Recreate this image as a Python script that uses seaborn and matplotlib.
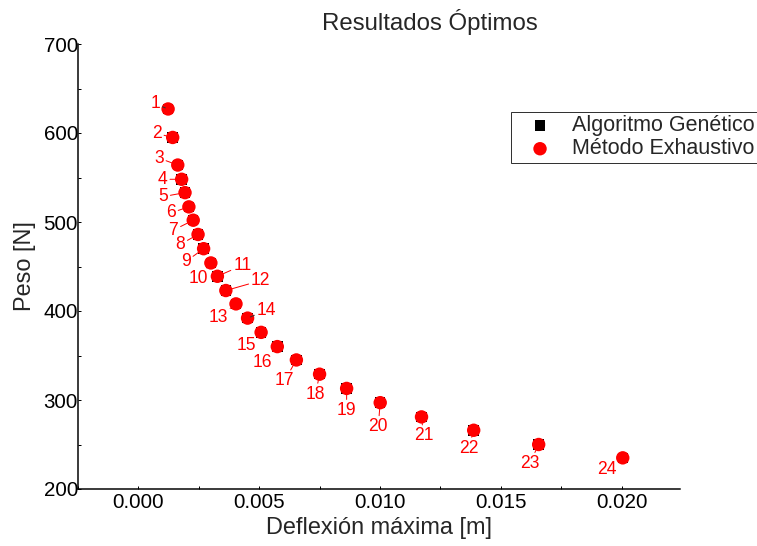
import numpy as np
import pandas as pd
import matplotlib
matplotlib.use("Agg")
import matplotlib.pyplot as plt
import seaborn as sns

# Deflexión máxima [m] y peso [N] de cada solución óptima
etiquetas = [str(i) for i in range(1, 25)]
deflexion_exh = [0.00123, 0.00142, 0.00163, 0.00179, 0.00193, 0.00209, 0.00227, 0.00247,
                 0.00270, 0.00300, 0.00327, 0.00362, 0.00404, 0.00452, 0.00508, 0.00575,
                 0.00654, 0.00750, 0.00862, 0.01001, 0.01172, 0.01388, 0.01657, 0.02005]
peso_exh = [627, 595, 564, 548, 533, 517, 502, 486, 470, 454, 439, 423,
            408, 392, 376, 360, 345, 329, 313, 297, 281, 266, 250, 235]
deflexion_ga = list(deflexion_exh)
peso_ga = list(peso_exh)

# desplazamiento de cada etiqueta respecto a su punto (pixeles: dx, dy hacia abajo)
offset_x = [-13, -16, -19, -19, -22, -18, -20, -18, -18, -13, 25, 35,
            -18, 19, -15, -15, -12, -4, 0, -2, 2, -5, -9, -16]
offset_y = [-5, -4, -7, 0, 4, 6, 10, 10, 13, 16, -11, -10,
            14, -8, 13, 16, 21, 20, 22, 24, 19, 18, 19, 12]

DPI = 72
fig = plt.figure(figsize=(757 / DPI, 546 / DPI), dpi=DPI)
sns.set_style("white")
plt.rcParams["font.family"] = ["Liberation Sans", "DejaVu Sans"]

ax = fig.add_axes([78 / 757, 1 - 489 / 546, 602 / 757, 445 / 546])

ga = pd.DataFrame({"x": deflexion_ga, "y": peso_ga})
exh = pd.DataFrame({"x": deflexion_exh, "y": peso_exh})

sns.scatterplot(data=ga, x="x", y="y", marker="s", s=110, color="black",
                edgecolor="none", label="Algoritmo Genético", ax=ax, zorder=3)
sns.scatterplot(data=exh, x="x", y="y", marker="o", s=180, color="red",
                edgecolor="none", label="Método Exhaustivo", ax=ax, zorder=4)

for i, txt in enumerate(etiquetas):
    line_col = "#333333" if txt in ("1", "14") else "red"
    ax.annotate(txt, xy=(deflexion_exh[i], peso_exh[i]),
                xytext=(offset_x[i], -offset_y[i]), textcoords="offset points",
                ha="center", va="center", fontsize=17.5, color="red",
                arrowprops=dict(arrowstyle="-", color=line_col, lw=1,
                                shrinkA=0, shrinkB=3), zorder=5)

ax.set_xlim(-0.00225, 0.02242)
ax.set_ylim(200, 700)
ax.set_xticks([0.0, 0.005, 0.010, 0.015, 0.020])
ax.set_xticklabels(["0.000", "0.005", "0.010", "0.015", "0.020"])
ax.set_xticks(np.arange(-0.0025, 0.0225, 0.0025), minor=True)
ax.set_yticks(range(200, 701, 100))
ax.set_yticks(range(200, 701, 50), minor=True)
ax.tick_params(axis="both", which="both", direction="in", labelsize=20.5,
               left=True, bottom=True, colors="black")
ax.tick_params(which="major", length=3, width=1)
ax.tick_params(which="minor", length=3, width=1)
ax.tick_params(axis="x", pad=4)
ax.tick_params(axis="y", pad=0)

sns.despine(ax=ax)
for side in ("left", "bottom"):
    ax.spines[side].set_color("black")
    ax.spines[side].set_linewidth(1.5)

ax.set_xlabel("Deflexión máxima [m]", fontsize=23.5, labelpad=5)
ax.set_ylabel("Peso [N]", fontsize=23.5, labelpad=8)
fig.text(430 / 757, 1 - 22 / 546, "Resultados Óptimos", fontsize=24,
         ha="center", va="center")

# la leyenda queda recortada por el borde derecho, como en el original
leg = ax.legend(loc="upper left", bbox_to_anchor=(511 / 757, 1 - 112 / 546),
                bbox_transform=fig.transFigure, fontsize=21.5, frameon=True,
                fancybox=False, borderpad=0.15, labelspacing=0.1,
                handletextpad=0.29, handlelength=2.4, borderaxespad=0)
leg.get_frame().set_edgecolor("black")
leg.get_frame().set_linewidth(1)

fig.savefig("out.png", dpi=DPI)
